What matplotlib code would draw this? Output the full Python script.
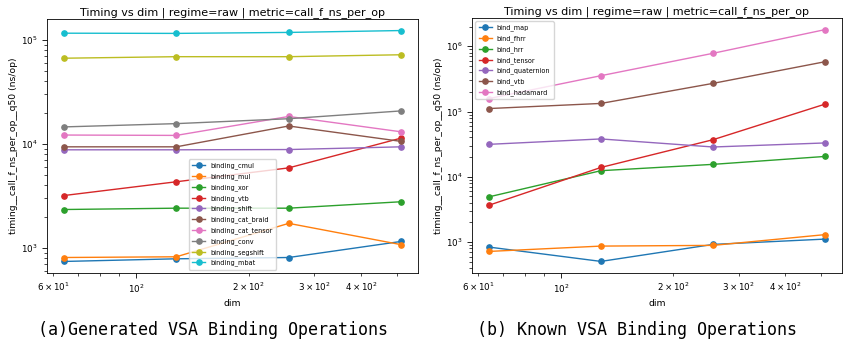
import matplotlib
matplotlib.use("Agg")
import matplotlib.pyplot as plt

dims = [64, 128, 256, 512]

# (a) generated binding operations, median ns/op
gen_names = ["binding_cmul", "binding_mul", "binding_xor", "binding_vtb", "binding_shift",
             "binding_cat_braid", "binding_cat_tensor", "binding_conv", "binding_segshift",
             "binding_mbat"]
gen_values = [
    [745, 790, 813, 1160],
    [813, 826, 1730, 1080],
    [2350, 2420, 2420, 2790],
    [3200, 4340, 5900, 11400],
    [8800, 8800, 8850, 9400],
    [9400, 9400, 14900, 10600],
    [12200, 12100, 18400, 13100],
    [14600, 15700, 17500, 20800],
    [66700, 69000, 69000, 72000],
    [116000, 115500, 118000, 123000],
]

# (b) known binding operations
known_names = ["bind_map", "bind_fhrr", "bind_hrr", "bind_tensor", "bind_quaternion",
               "bind_vtb", "bind_hadamard"]
known_values = [
    [838, 505, 920, 1110],
    [718, 867, 889, 1300],
    [4920, 12400, 15500, 20500],
    [3660, 13900, 37000, 130000],
    [31400, 38000, 28600, 33000],
    [111000, 133000, 270000, 580000],
    [158000, 354000, 780000, 1800000],
]

title = "Timing vs dim | regime=raw | metric=call_f_ns_per_op"
ylabel = "timing__call_f_ns_per_op__q50 (ns/op)"
captions = ["(a)Generated VSA Binding Operations", "(b) Known VSA Binding Operations"]

W, H = 843, 345
fig = plt.figure(figsize=(W / 100, H / 100), dpi=100)

def draw(ax, names, values, legend_loc):
    for name, vals in zip(names, values):
        ax.plot(dims, vals, marker="o", markersize=3.8, linewidth=1.0, label=name)
    ax.set_xscale("log")
    ax.set_yscale("log")
    ax.set_title(title, fontsize=8.0, pad=3)
    ax.set_xlabel("dim", fontsize=6.7, labelpad=2.5)
    ax.set_ylabel(ylabel, fontsize=6.7, labelpad=2)
    ax.tick_params(which="both", labelsize=6.3)
    ax.tick_params(which="major", length=3.5, width=0.6)
    ax.tick_params(which="minor", length=2, width=0.5)
    for s in ax.spines.values():
        s.set_linewidth(0.6)
    ax.legend(loc=legend_loc, fontsize=4.7, handlelength=2.0,
              labelspacing=0.62, borderpad=0.5, framealpha=0.8)

ax1 = fig.add_axes([47 / W, (H - 273) / H, 371 / W, 254 / H])
draw(ax1, gen_names, gen_values, "lower center")

ax2 = fig.add_axes([472 / W, (H - 273) / H, 370 / W, 255 / H])
draw(ax2, known_names, known_values, "upper left")

fig.text(213 / W, 1 - 330 / H, captions[0], family="DejaVu Sans Mono", fontsize=12,
         ha="center", va="center")
fig.text(637 / W, 1 - 330 / H, captions[1], family="DejaVu Sans Mono", fontsize=12,
         ha="center", va="center")

fig.savefig("out.png", dpi=100)
